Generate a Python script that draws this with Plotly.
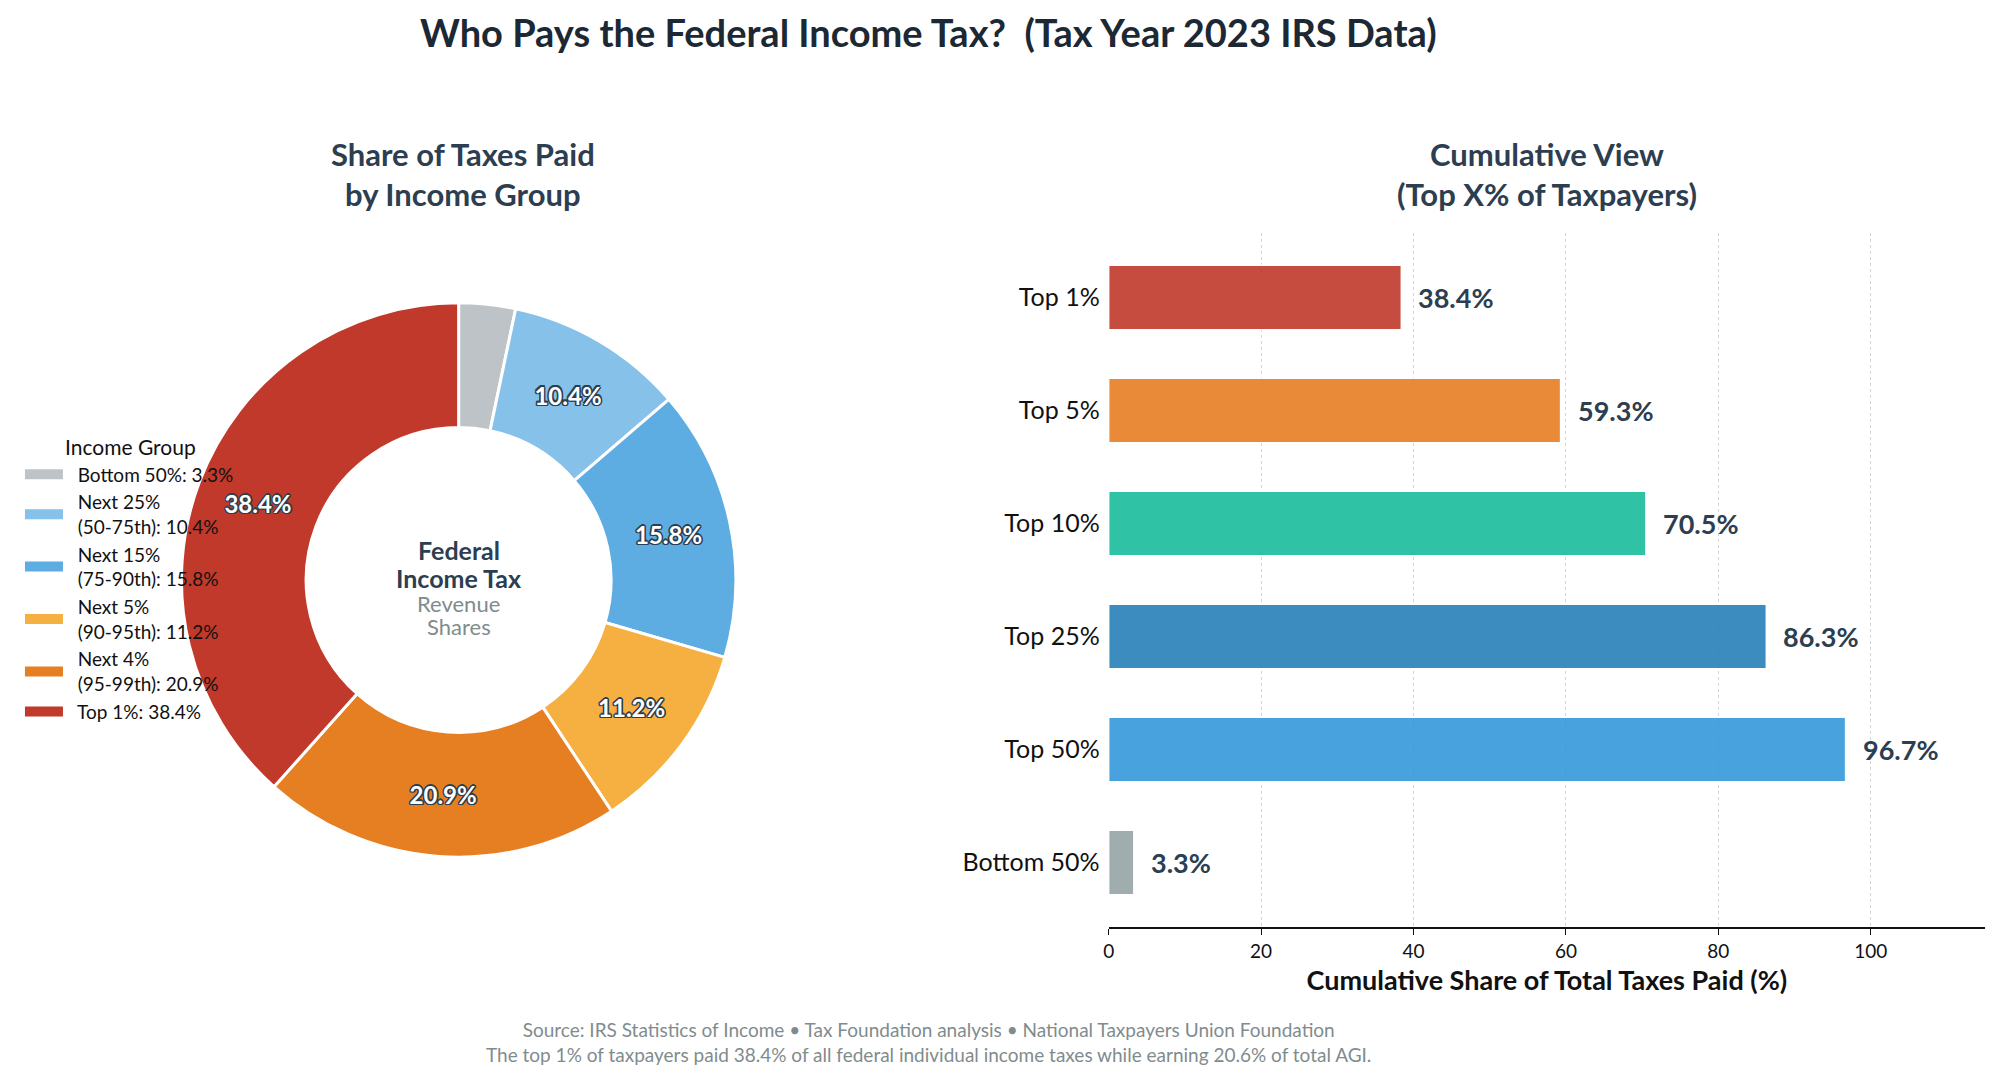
import plotly.graph_objects as go

# ---- data ----
pie_groups = ["Bottom 50%", "Next 25%<br>(50-75th)", "Next 15%<br>(75-90th)",
              "Next 5%<br>(90-95th)", "Next 4%<br>(95-99th)", "Top 1%"]
pie_shares = [3.3, 10.4, 15.8, 11.2, 20.9, 38.4]
pie_colors = ["#BDC3C7", "#85C1E9", "#5DADE2", "#F5B041", "#E67E22", "#C0392B"]

bar_groups = ["Top 1%", "Top 5%", "Top 10%", "Top 25%", "Top 50%", "Bottom 50%"]
bar_shares = [38.4, 59.3, 70.5, 86.3, 96.7, 3.3]
bar_colors = ["#C0392B", "#E67E22", "#1ABC9C", "#2980B9", "#3498DB", "#95A5A6"]

x_ticks = [0, 20, 40, 60, 80, 100]

FONT = "Lato"
W, H = 2000, 1080
DARK = "#2C3E50"
NB = "\u00a0\u00a0"


def px(x):
    return x / W


def py(y):
    return 1 - y / H


fig = go.Figure()

pie_labels = [f"{g}: {v}%" for g, v in zip(pie_groups, pie_shares)]
legend_names = [NB + lab.replace("<br>", "<br>" + NB) for lab in pie_labels]
pie_text = ["" if v < 5 else f"{v}%" for v in pie_shares]

shadow = ", ".join(f"{dx}px {dy}px 0 {DARK}" for dx, dy in
                   [(1.5, 0), (-1.5, 0), (0, 1.5), (0, -1.5), (1.2, 1.2), (-1.2, -1.2), (1.2, -1.2), (-1.2, 1.2)])

fig.add_trace(go.Bar(
    x=bar_shares,
    y=bar_groups,
    orientation="h",
    marker=dict(color=bar_colors, opacity=0.9, line=dict(color="white", width=1.5)),
    width=0.57,
    xaxis="x", yaxis="y",
    showlegend=False,
))

cx, cy, r = 454, 580, 278
fig.add_trace(go.Pie(
    labels=pie_labels,
    values=pie_shares,
    text=pie_text,
    textinfo="text",
    textposition="inside",
    insidetextorientation="horizontal",
    sort=False,
    direction="clockwise",
    rotation=0,
    hole=0.55,
    marker=dict(colors=pie_colors, line=dict(color="white", width=3)),
    textfont=dict(family=FONT, size=24, color="white", weight="bold", shadow=shadow),
    domain=dict(x=[px(cx - r), px(cx + r)], y=[py(cy + r), py(cy - r)]),
    hoverinfo="label+percent",
    showlegend=False,
))

# legend entries (line swatches) for the donut groups
for lab, col in zip(legend_names, pie_colors):
    fig.add_trace(go.Scatter(
        x=[None], y=[None], mode="lines", name=lab,
        line=dict(color=col, width=10),
        xaxis="x", yaxis="y", showlegend=True, hoverinfo="skip",
    ))

annotations = []
for g, v in zip(bar_groups, bar_shares):
    annotations.append(dict(
        x=v, y=g, xref="x", yref="y", text=f"{v}%", showarrow=False,
        xanchor="left", yanchor="middle", xshift=15,
        font=dict(family=FONT, size=27, color=DARK, weight="bold"),
    ))

center_lines = [("<b>Federal</b>", 550, 25, DARK), ("<b>Income Tax</b>", 578, 25, DARK),
                ("Revenue", 603, 22, "#7F8C8D"), ("Shares", 626, 22, "#7F8C8D")]
for txt, yy, sz, col in center_lines:
    annotations.append(dict(
        x=px(cx), y=py(yy), xref="paper", yref="paper", showarrow=False, text=txt,
        font=dict(family=FONT, size=sz, color=col), xanchor="center", yanchor="middle",
    ))

annotations += [
    dict(x=px(925), y=py(32), xref="paper", yref="paper", showarrow=False,
         text="<b>Who Pays the Federal Income Tax?  (Tax Year 2023 IRS Data)</b>",
         font=dict(family=FONT, size=38, color="#1C2833"), xanchor="center", yanchor="middle"),
    dict(x=px(458), y=py(174), xref="paper", yref="paper", showarrow=False,
         text="<b>Share of Taxes Paid<br>by Income Group</b>",
         font=dict(family=FONT, size=31, color=DARK), xanchor="center", yanchor="middle"),
    dict(x=px(1546), y=py(174), xref="paper", yref="paper", showarrow=False,
         text="<b>Cumulative View<br>(Top X% of Taxpayers)</b>",
         font=dict(family=FONT, size=31, color=DARK), xanchor="center", yanchor="middle"),
    dict(x=px(925), y=py(1042), xref="paper", yref="paper", showarrow=False,
         text="Source: IRS Statistics of Income • Tax Foundation analysis • National Taxpayers Union Foundation<br>"
              "The top 1% of taxpayers paid 38.4% of all federal individual income taxes while earning 20.6% of total AGI.",
         font=dict(family=FONT, size=19, color="#7F8C8D"), xanchor="center", yanchor="middle"),
]

fig.update_layout(
    width=W, height=H,
    margin=dict(l=0, r=0, t=0, b=0),
    paper_bgcolor="white", plot_bgcolor="white",
    font=dict(family=FONT, color="#222222"),
    bargap=0.43,
    legend=dict(
        x=px(14), y=py(428), xanchor="left", yanchor="top",
        title=dict(text="\u00a0" * 8 + "Income Group", font=dict(family=FONT, size=21, color="#111")),
        font=dict(family=FONT, size=19, color="#111"),
        bgcolor="rgba(0,0,0,0)", traceorder="normal",
        itemwidth=38, tracegroupgap=0,
    ),
    xaxis=dict(
        type="linear",
        domain=[px(1106), px(1985)], range=[0, 115],
        tickvals=x_ticks, ticks="outside", ticklen=6, tickcolor="#111",
        tickfont=dict(family=FONT, size=19, color="#111"),
        showline=True, linecolor="#111", linewidth=2,
        showgrid=True, gridcolor="#D5D5D5", griddash="dot", gridwidth=1,
        zeroline=False,
        title=dict(text="<b>Cumulative Share of Total Taxes Paid (%)</b>", standoff=10,
                   font=dict(family=FONT, size=27, color="#111")),
        anchor="y",
    ),
    yaxis=dict(
        type="category",
        domain=[py(927), py(233)], range=[5.57, -0.57],
        categoryorder="array", categoryarray=bar_groups,
        tickfont=dict(family=FONT, size=25, color="#111"),
        showline=False, showgrid=False, zeroline=False, ticks="",
        ticklabelstandoff=8,
        anchor="x",
    ),
    annotations=annotations,
)

fig.write_html("out.html")
